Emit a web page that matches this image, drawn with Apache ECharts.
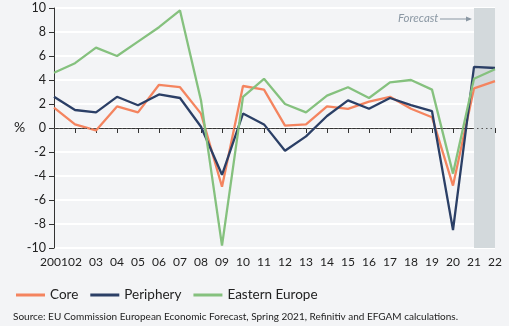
<!DOCTYPE html>
<html><head><meta charset="utf-8">
<style>html,body{margin:0;padding:0;background:#f3f4f6;}#c{width:509px;height:326px;}</style>
<script src="https://cdn.jsdelivr.net/npm/echarts@6/dist/echarts.min.js"></script>
</head><body><div id="c"></div>
<script>
var years = ['2001','02','03','04','05','06','07','08','09','10','11','12','13','14','15','16','17','18','19','20','21','22'];
var core = [1.7,0.3,-0.2,1.8,1.3,3.6,3.4,1.2,-4.9,3.5,3.2,0.2,0.3,1.8,1.6,2.2,2.6,1.6,0.9,-4.8,3.3,3.9];
var periphery = [2.6,1.5,1.3,2.6,1.9,2.8,2.5,0.1,-3.9,1.2,0.3,-1.9,-0.7,1.0,2.3,1.6,2.5,1.9,1.4,-8.5,5.1,5.0];
var eastern = [4.6,5.4,6.7,6.0,7.2,8.4,9.8,2.3,-9.8,2.6,4.1,2.0,1.3,2.7,3.4,2.5,3.8,4.0,3.2,-3.8,4.1,4.9];
var yTicks = [-10,-8,-6,-4,-2,0,2,4,6,8,10];
var forecastFrom = '21', forecastTo = '22';

var chart = echarts.init(document.getElementById('c'), null, {renderer:'canvas'});
var font = 'Lato';
function line(name, data, color, extra){
  var s = {name:name, type:'line', data:data, symbol:'none', smooth:false,
    lineStyle:{color:color, width:2.3}, itemStyle:{color:color}, z:3};
  for (var k in extra) s[k] = extra[k];
  return s;
}
chart.setOption({
  backgroundColor:'#f3f4f6',
  animation:false,
  grid:{left:54, right:14, top:8, bottom:78},
  legend:{left:11, top:283, itemWidth:29, itemHeight:3, itemGap:12, icon:'rect',
    textStyle:{fontFamily:font, fontSize:13.5, color:'#222'},
    data:['Core','Periphery','Eastern Europe']},
  xAxis:{type:'category', data:years, boundaryGap:false,
    axisLine:{lineStyle:{color:'#333', width:1}},
    axisTick:{show:true, alignWithLabel:true, length:5, lineStyle:{color:'#333'}},
    axisLabel:{fontFamily:font, fontSize:12, color:'#222', margin:8, interval:0},
    splitLine:{show:false}},
  yAxis:{type:'value', min:-10, max:10, interval:2,
    axisLine:{show:true, lineStyle:{color:'#333'}},
    axisTick:{show:true, length:5, lineStyle:{color:'#333'}},
    axisLabel:{fontFamily:font, fontSize:12.5, color:'#222', margin:8},
    splitLine:{show:true, lineStyle:{color:'#ffffff', width:2}}},
  series:[
    line('Core', core, '#f4845f', {
      markArea:{silent:true, itemStyle:{color:'#d3d9dc'}, data:[[{xAxis:forecastFrom},{xAxis:forecastTo}]]},
      markLine:{silent:true, symbol:'none', label:{show:false},
        lineStyle:{color:'#555', type:[1.5,3], width:1}, data:[{yAxis:0}]}
    }),
    line('Periphery', periphery, '#2b3f66', {}),
    line('Eastern Europe', eastern, '#85c17e', {})
  ],
  graphic:[
    {type:'text', left:14, top:120, style:{text:'%', font:'14px Lato', fill:'#222'}},
    {type:'text', left:398, top:12, style:{text:'Forecast', font:'italic 11.5px Lato', fill:'#8a97a3'}},
    {type:'line', shape:{x1:440, y1:19, x2:468, y2:19}, style:{stroke:'#8a97a3', lineWidth:1}},
    {type:'polygon', shape:{points:[[472,19],[466,16.5],[466,21.5]]}, style:{fill:'#8a97a3'}},
    {type:'text', left:13, top:312, style:{text:'Source: EU Commission European Economic Forecast, Spring 2021, Refinitiv and EFGAM calculations.', font:'10px Lato', fill:'#222'}}
  ]
});
</script></body></html>
